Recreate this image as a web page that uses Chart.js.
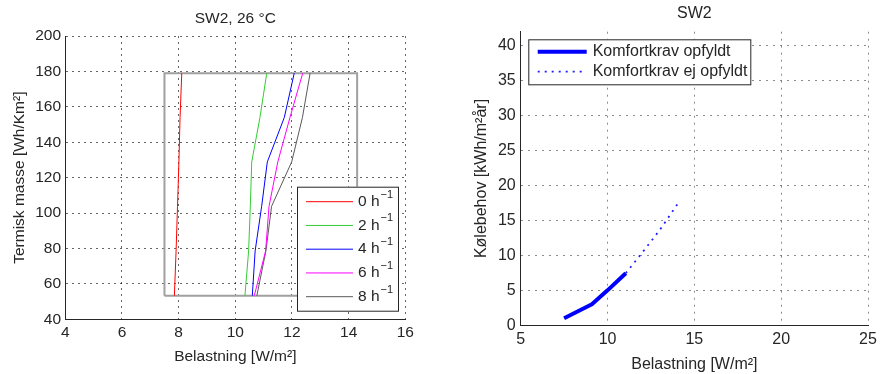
<!DOCTYPE html>
<html>
<head>
<meta charset="utf-8">
<script src="https://cdn.jsdelivr.net/npm/chart.js@4.4.1/dist/chart.umd.min.js"></script>
<style>
html, body { margin: 0; padding: 0; background: #fff; }
#wrap { position: relative; width: 882px; height: 374px; }
#left { position: absolute; left: 0; top: 0; width: 440px; height: 374px; }
#right { position: absolute; left: 440px; top: 0; width: 442px; height: 374px; }
</style>
</head>
<body>
<div id="wrap">
  <canvas id="left" width="440" height="374"></canvas>
  <canvas id="right" width="442" height="374"></canvas>
</div>
<script>
// left plot: thermal mass vs load, one line per air change rate
const massLevels = [53.3, 78.6, 103.8, 128.9, 154, 179];
const airChanges = [0, 2, 4, 6, 8];
const loadAt0h = [7.85, 7.91, 7.96, 8.01, 8.05, 8.11];
const loadAt2h = [10.34, 10.47, 10.53, 10.58, 10.87, 11.11];
const loadAt4h = [10.6, 10.7, 10.93, 11.13, 11.73, 12.08];
const loadAt6h = [10.67, 11.07, 11.19, 11.5, 11.93, 12.38];
const loadAt8h = [10.76, 11.08, 11.28, 11.99, 12.37, 12.64];
const boxLoad = [7.5, 14.3, 14.3, 7.5, 7.5];
const boxMass = [53.3, 53.3, 179, 179, 53.3];
const leftXTicks = [4, 6, 8, 10, 12, 14, 16];
const leftYTicks = [40, 60, 80, 100, 120, 140, 160, 180, 200];

// right plot: cooling demand vs load
const okLoad = [7.5, 9.1, 10, 11.05];
const okNeed = [1.0, 3.0, 5.0, 7.45];
const notOkLoad = [11.05, 12, 13, 14.1];
const notOkNeed = [7.45, 10.4, 13.6, 17.6];
const rightXTicks = [5, 10, 15, 20, 25];
const rightYTicks = [0, 5, 10, 15, 20, 25, 30, 35, 40];

const lineColors = ['#ff0000', '#33cc33', '#0000ff', '#ff00ff', '#595959'];
const textColor = '#262626';
const FONT = 'Liberation Sans, Arial, sans-serif';

function pts(xs, ys) {
    return xs.map((x, i) => ({ x: x, y: ys[i] }));
}

const headline = {
    id: 'headline',
    afterDraw(chart, args, opts) {
        const { ctx, chartArea } = chart;
        ctx.save();
        ctx.font = opts.size + 'px ' + FONT;
        ctx.fillStyle = textColor;
        ctx.textAlign = 'center';
        ctx.textBaseline = 'middle';
        ctx.fillText(opts.text, (chartArea.left + chartArea.right) / 2, opts.y);
        ctx.restore();
    }
};

const boxLegend = {
    id: 'boxLegend',
    afterDraw(chart, args, opts) {
        const ctx = chart.ctx;
        const items = chart.data.datasets.filter(ds => ds.label);
        ctx.save();
        ctx.fillStyle = '#fff';
        ctx.fillRect(opts.x, opts.y, opts.w, opts.h);
        ctx.strokeStyle = textColor;
        ctx.lineWidth = 1;
        ctx.strokeRect(opts.x + 0.5, opts.y + 0.5, opts.w, opts.h);
        items.forEach((ds, i) => {
            const y = opts.rowY + i * opts.rowStep;
            ctx.beginPath();
            ctx.strokeStyle = ds.borderColor;
            ctx.lineWidth = ds.borderWidth;
            ctx.setLineDash(ds.borderDash || []);
            ctx.moveTo(opts.lineX0, y);
            ctx.lineTo(opts.lineX1, y);
            ctx.stroke();
            ctx.setLineDash([]);
            const parts = ds.label.split('^');
            ctx.font = opts.size + 'px ' + FONT;
            ctx.fillStyle = textColor;
            ctx.textAlign = 'left';
            ctx.textBaseline = 'middle';
            ctx.fillText(parts[0], opts.textX, y);
            if (parts[1]) {
                const w = ctx.measureText(parts[0]).width;
                ctx.font = opts.supSize + 'px ' + FONT;
                ctx.fillText(parts[1], opts.textX + w + 1, y - 7);
            }
        });
        ctx.restore();
    }
};

function axis(ticks, min, max, title, size, titlePad, labelPad, fitSize, isX, gridColor, gridDash) {
    return {
        type: 'linear',
        min: min,
        max: max,
        afterBuildTicks: s => { s.ticks = ticks.map(v => ({ value: v })); },
        afterFit: s => { if (isX) s.height = fitSize; else s.width = fitSize; },
        ticks: { color: textColor, padding: labelPad, font: { family: FONT, size: size } },
        grid: { color: gridColor, lineWidth: 1, drawTicks: false },
        border: { display: true, color: textColor, width: 1, dash: gridDash },
        title: { display: true, text: title, color: textColor, padding: titlePad, font: { family: FONT, size: size } }
    };
}

const leftSeries = [loadAt0h, loadAt2h, loadAt4h, loadAt6h, loadAt8h];
const leftSets = leftSeries.map((loads, i) => ({
    label: airChanges[i] + ' h^\u22121',
    data: pts(loads, massLevels),
    showLine: true,
    borderColor: lineColors[i],
    borderWidth: 1,
    pointRadius: 0
}));
leftSets.push({
    data: pts(boxLoad, boxMass),
    showLine: true,
    borderColor: '#a0a0a0',
    borderWidth: 2,
    pointRadius: 0
});

new Chart(document.getElementById('left'), {
    type: 'scatter',
    data: { datasets: leftSets },
    options: {
        responsive: false,
        animation: false,
        events: [],
        layout: { padding: { top: 36, right: 34.7, bottom: 0, left: 0 } },
        plugins: {
            legend: { display: false },
            tooltip: { enabled: false },
            headline: { text: 'SW2, 26 \u00b0C', y: 18.3, size: 15.5 },
            boxLegend: { x: 297, y: 186.7, w: 101, h: 124, lineX0: 306, lineX1: 353, textX: 358, rowY: 201.7, rowStep: 23.75, size: 15.5, supSize: 11 }
        },
        scales: {
            x: axis(leftXTicks, 4, 16, 'Belastning [W/m\u00b2]', 15.5, { top: 0, bottom: 8 }, 4.4, 54.7, true, 'rgba(0,0,0,0.6)', [2, 4]),
            y: axis(leftYTicks, 40, 200, 'Termisk masse [Wh/Km\u00b2]', 15.5, { top: 10, bottom: 0 }, 4.3, 65.3, false, 'rgba(0,0,0,0.6)', [2, 4])
        }
    },
    plugins: [headline, boxLegend]
});

new Chart(document.getElementById('right'), {
    type: 'scatter',
    data: {
        datasets: [
            {
                label: 'Komfortkrav opfyldt',
                data: pts(okLoad, okNeed),
                showLine: true,
                borderColor: '#0000ff',
                borderWidth: 4,
                borderJoinStyle: 'round',
                pointRadius: 0
            },
            {
                label: 'Komfortkrav ej opfyldt',
                data: pts(notOkLoad, notOkNeed),
                showLine: true,
                borderColor: '#2020ff',
                borderWidth: 1.8,
                borderDash: [2, 5],
                pointRadius: 0
            }
        ]
    },
    options: {
        responsive: false,
        animation: false,
        events: [],
        layout: { padding: { top: 31.7, right: 9.7, bottom: 0, left: 0 } },
        plugins: {
            legend: { display: false },
            tooltip: { enabled: false },
            headline: { text: 'SW2', y: 13.3, size: 16 },
            boxLegend: { x: 88.3, y: 39.3, w: 222, h: 45, lineX0: 97.7, lineX1: 146.7, textX: 152.7, rowY: 51.7, rowStep: 20, size: 16, supSize: 11 }
        },
        scales: {
            x: axis(rightXTicks, 5, 25, 'Belastning [W/m\u00b2]', 16, { top: 0, bottom: 0 }, 5.1, 48.7, true, 'rgba(0,0,0,0.45)', [2, 5]),
            y: axis(rightYTicks, 0, 42, 'K\u00f8lebehov [kWh/m\u00b2\u00e5r]', 16, { top: 32, bottom: 0 }, 5, 80.7, false, 'rgba(0,0,0,0.45)', [2, 5])
        }
    },
    plugins: [headline, boxLegend]
});
</script>
</body>
</html>
